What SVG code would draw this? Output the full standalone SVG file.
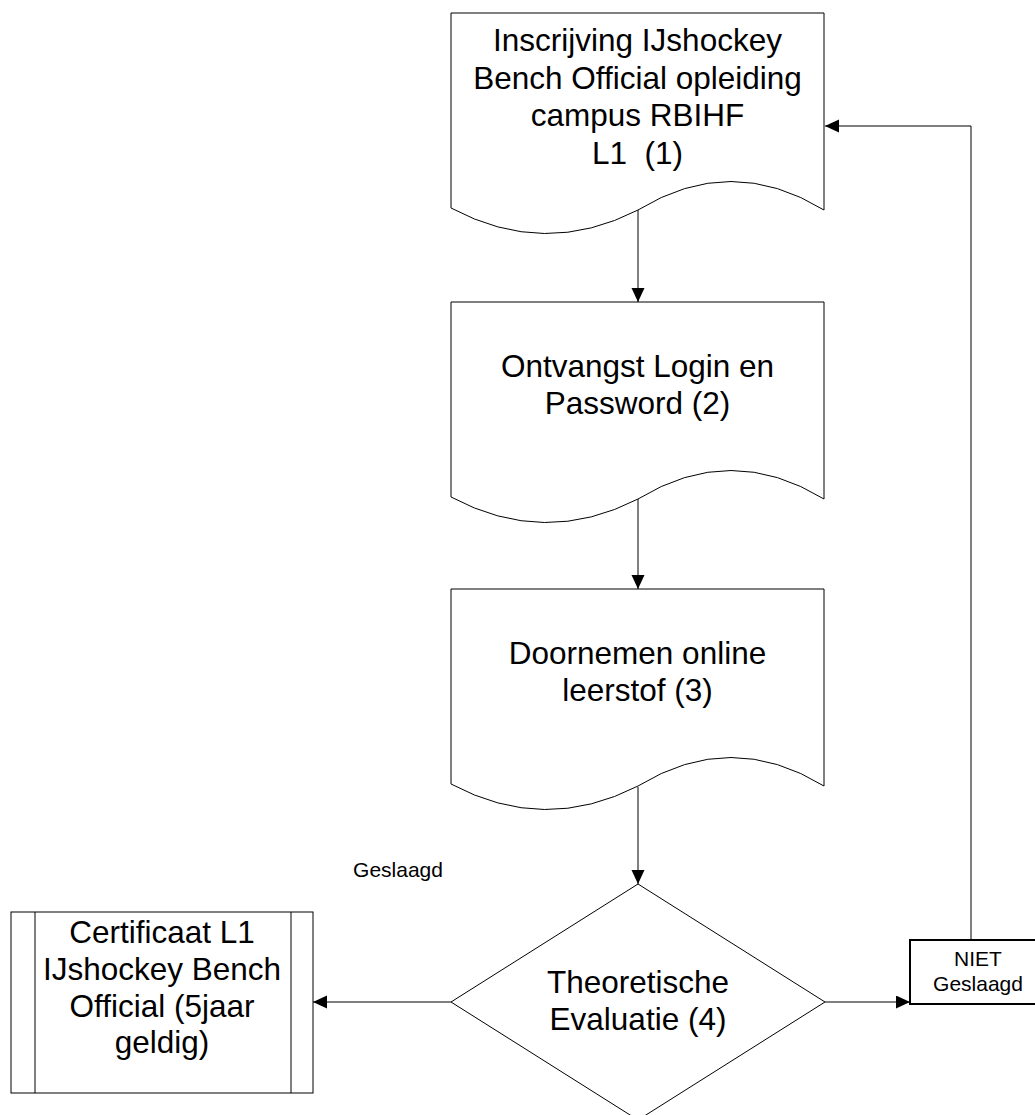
<svg xmlns="http://www.w3.org/2000/svg" width="1035" height="1115" viewBox="0 0 1035 1115">
<style>
.shape{fill:#ffffff;stroke:#000000;stroke-width:1}
.box{fill:#ffffff;stroke:#000000;stroke-width:2}
.conn{fill:none;stroke:#000000;stroke-width:1}
.t{font-family:"Liberation Sans",Arial,sans-serif;font-size:31.5px;fill:#000000;text-anchor:middle}
.s{font-family:"Liberation Sans",Arial,sans-serif;font-size:21px;fill:#000000;text-anchor:middle}
</style>
<defs>
<marker id="arr" markerUnits="userSpaceOnUse" markerWidth="15" markerHeight="14" refX="14" refY="6.5" orient="auto">
<path d="M0,0 L14,6.5 L0,13 Z" fill="#000000"/>
</marker>
</defs>
<rect x="0" y="0" width="1035" height="1115" fill="#ffffff"/>
<g id="connectors">
<line class="conn" x1="638" y1="210" x2="638" y2="302" marker-end="url(#arr)"/>
<line class="conn" x1="638" y1="499" x2="638" y2="589" marker-end="url(#arr)"/>
<line class="conn" x1="638" y1="787" x2="638" y2="884" marker-end="url(#arr)"/>
<line class="conn" x1="451" y1="1002" x2="313" y2="1002" marker-end="url(#arr)"/>
<line class="conn" x1="825" y1="1002" x2="910" y2="1002" marker-end="url(#arr)"/>
<polyline class="conn" points="971,940 971,126 825,126" marker-end="url(#arr)"/>
</g>
<g id="node1">
<path class="shape" d="M451,13 L824,13 L824,210 Q731,153 638,210 Q544.5,258 451,208 Z"/>
<text class="t" x="637.5" y="51">Inscrijving IJshockey</text>
<text class="t" x="637.5" y="89">Bench Official opleiding</text>
<text class="t" x="637.5" y="126">campus RBIHF</text>
<text class="t" x="637.5" y="164" xml:space="preserve">L1  (1)</text>
</g>
<g id="node2">
<path class="shape" d="M451,302 L824,302 L824,499 Q731,442 638,499 Q544.5,547 451,497 Z"/>
<text class="t" x="637.5" y="377">Ontvangst Login en</text>
<text class="t" x="637.5" y="414">Password (2)</text>
</g>
<g id="node3">
<path class="shape" d="M451,589 L824,589 L824,786 Q731,729 638,786 Q544.5,834 451,784 Z"/>
<text class="t" x="637.5" y="664">Doornemen online</text>
<text class="t" x="637.5" y="701">leerstof (3)</text>
</g>
<g id="node4">
<polygon class="shape" points="638,884 825,1002 638,1120 451,1002"/>
<text class="t" x="638" y="993">Theoretische</text>
<text class="t" x="638" y="1030">Evaluatie (4)</text>
</g>
<g id="node5">
<rect class="shape" x="11" y="912" width="302" height="181"/>
<line class="shape" x1="35" y1="912" x2="35" y2="1093"/>
<line class="shape" x1="291" y1="912" x2="291" y2="1093"/>
<text class="t" x="162" y="943">Certificaat L1</text>
<text class="t" x="162" y="980">IJshockey Bench</text>
<text class="t" x="162" y="1017">Official (5jaar</text>
<text class="t" x="162" y="1053">geldig)</text>
</g>
<g id="node6">
<rect class="box" x="910" y="940" width="137" height="64"/>
<text class="s" x="978" y="966">NIET</text>
<text class="s" x="978" y="991">Geslaagd</text>
</g>
<g id="label-geslaagd">
<text class="s" x="398" y="877">Geslaagd</text>
</g>
</svg>
